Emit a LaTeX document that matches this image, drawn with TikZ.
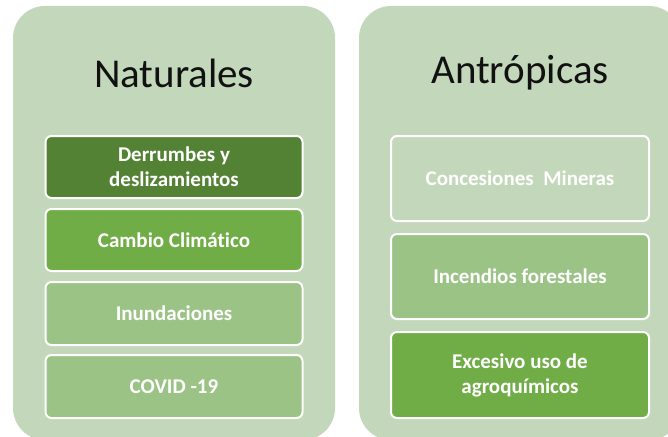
\documentclass[tikz,border=0pt]{standalone}
\usepackage{fontspec}
\setmainfont{Carlito}[Ligatures={NoCommon}]
\definecolor{panelbg}{HTML}{C3D7BA}
\definecolor{gdark}{HTML}{548235}
\definecolor{gmid}{HTML}{70AD47}
\definecolor{glight}{HTML}{9CC386}
\definecolor{titlec}{HTML}{111111}
\begin{document}
\begin{tikzpicture}[x=1pt,y=-1pt,
  panel/.style={fill=panelbg, draw=none, rounded corners=32pt},
  itembox/.style={draw=white, line width=2pt, rounded corners=6pt, minimum width=257pt, inner sep=0pt,
     align=center, text=white, font=\fontsize{21}{25}\selectfont\bfseries},
  titletext/.style={text=titlec, font=\fontsize{41}{45}\selectfont}
]
\useasboundingbox (0,0) rectangle (668,436);
\clip (0,0) rectangle (668,436);
\fill[white] (0,0) rectangle (668,436);
% panels
\path[panel] (13,6) rectangle (335,440);
\path[panel] (359,6) rectangle (681,440);
% titles
\node[titletext] (tnat) at (174,73) {Naturales};
\node[titletext] (tant) at (520,73) {Antrópicas};
% left items
\node[itembox, fill=gdark, minimum height=62pt] (n1) at (174,167) {Derrumbes y\\deslizamientos};
\node[itembox, fill=gmid, minimum height=62pt] (n2) at (174,240) {Cambio Climático};
\node[itembox, fill=glight, minimum height=63pt] (n3) at (174,313.5) {Inundaciones};
\node[itembox, fill=glight, minimum height=63pt] (n4) at (174,386.5) {COVID -19};
% right items
\node[itembox, fill=panelbg, minimum width=258pt, minimum height=85pt] (a1) at (520,178.5) {Concesiones\ \ Mineras};
\node[itembox, fill=glight, minimum width=258pt, minimum height=85pt] (a2) at (520,276.5) {Incendios forestales};
\node[itembox, fill=gmid, minimum width=258pt, minimum height=86pt] (a3) at (520,375) {Excesivo uso de\\agroquímicos};
\end{tikzpicture}
\end{document}
